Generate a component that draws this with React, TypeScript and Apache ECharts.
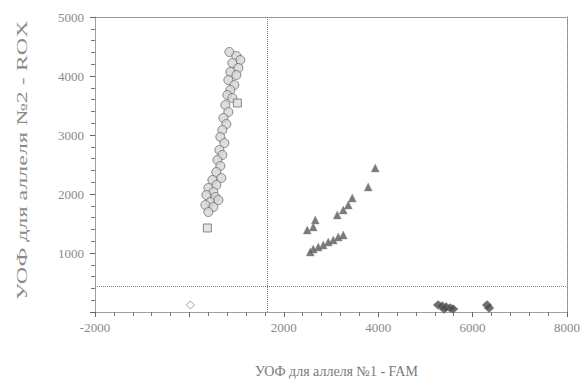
import React, { useEffect, useRef } from "react";
import * as echarts from "echarts";

// Allele 2 homozygotes (ROX) – hollow gray markers
const allele2Circles: [number, number][] = [
  [847, 4407], [995, 4339], [1079, 4271], [910, 4220], [1037, 4136], [868, 4068],
  [995, 4017], [825, 3932], [952, 3847], [868, 3763], [804, 3678], [910, 3627],
  [762, 3508], [825, 3390], [720, 3288], [783, 3186], [698, 3085], [656, 2966],
  [741, 2864], [635, 2746], [698, 2661], [593, 2576], [656, 2475], [571, 2373],
  [677, 2271], [487, 2237], [571, 2153], [402, 2102], [508, 2034], [360, 1983],
  [550, 1949], [444, 1864], [339, 1814], [508, 1780], [402, 1695], [614, 1898],
];
const allele2Squares: [number, number][] = [
  [1016, 3542], [381, 1424],
];
// Heterozygotes – dark triangles
const heterozygotes: [number, number][] = [
  [3937, 2441], [3788, 2119], [3450, 1932], [3365, 1814], [3259, 1729], [3132, 1644],
  [2667, 1559], [2624, 1441], [2497, 1390], [3259, 1305], [3153, 1271], [3048, 1220],
  [2942, 1186], [2836, 1136], [2730, 1102], [2624, 1068], [2561, 1017],
];
// Allele 1 homozygotes (FAM) – dark diamonds
const allele1: [number, number][] = [
  [5270, 119], [5354, 102], [5439, 85], [5524, 68], [5587, 51], [5397, 51],
  [6307, 119], [6349, 68],
];
// No-template control
const ntc: [number, number][] = [[21, 119]];

const thresholdX = 1650;
const thresholdY = 440;

const xTitle = "УОФ для аллеля №1 - FAM";
const yTitle = "УОФ для аллеля №2 - ROX";

const FONT = "'Liberation Serif', 'DejaVu Serif', serif";
const GRAY = "#808080";

export default function App() {
  const ref = useRef<HTMLDivElement>(null);
  useEffect(() => {
    if (!ref.current) return;
    const chart = echarts.init(ref.current, undefined, { renderer: "svg" });
    const label = (margin: number) => ({
      color: "#8a8a8a",
      fontFamily: FONT,
      fontSize: 13,
      margin,
      formatter: (v: number) => (v === 0 ? "" : String(v)),
    });
    const tick = { show: true, length: 5, lineStyle: { color: "#666", width: 1 } };
    const minor = { show: true, splitNumber: 5, length: 4, lineStyle: { color: "#777", width: 1 } };
    const line = { show: true, onZero: false, lineStyle: { color: "#a0a0a0", width: 1 } };
    const frameAxis = {
      axisLine: { show: true, onZero: false, lineStyle: { color: GRAY, type: "dotted", width: 1 } },
      axisTick: { show: false }, axisLabel: { show: false }, splitLine: { show: false },
    };
    chart.setOption({
      animation: false,
      backgroundColor: "#ffffff",
      grid: { left: 95, right: 17, top: 17, bottom: 76 },
      xAxis: [
        {
          type: "value", min: -2000, max: 8000, interval: 2000,
          axisLine: line, axisTick: tick, minorTick: minor,
          splitLine: { show: false }, axisLabel: label(9),
        },
        { type: "value", position: "top", min: -2000, max: 8000, interval: 2000, ...frameAxis },
      ],
      yAxis: [
        {
          type: "value", min: 0, max: 5000, interval: 1000,
          axisLine: line, axisTick: tick, minorTick: minor,
          splitLine: { show: false }, axisLabel: label(11),
        },
        { type: "value", position: "right", min: 0, max: 5000, interval: 1000, ...frameAxis },
      ],
      graphic: [
        {
          type: "text", left: 255, top: 364,
          style: { text: xTitle, fontFamily: FONT, fontSize: 14, fill: "#7a7a7a" },
        },
        {
          type: "text", x: 14, y: 300, rotation: Math.PI / 2, scaleX: 1.6,
          style: { text: yTitle, fontFamily: FONT, fontSize: 15, fill: "#8a8a8a", textVerticalAlign: "top" },
        },
      ],
      series: [
        {
          type: "scatter", data: allele2Circles, symbol: "circle", symbolSize: 9,
          itemStyle: { color: "#d6d6d6", borderColor: "#6e6e6e", borderWidth: 1 },
          markLine: {
            silent: true, symbol: "none", label: { show: false },
            lineStyle: { color: GRAY, type: "dotted", width: 1 },
            data: [{ xAxis: thresholdX }, { yAxis: thresholdY }],
          },
        },
        {
          type: "scatter", data: allele2Squares, symbol: "rect", symbolSize: 8,
          itemStyle: { color: "#dcdcdc", borderColor: "#6e6e6e", borderWidth: 1 },
        },
        {
          type: "scatter", data: heterozygotes, symbol: "triangle", symbolSize: 8,
          itemStyle: { color: "#5a5a5a", borderColor: "#8a8a8a", borderWidth: 0.5 },
        },
        {
          type: "scatter", data: allele1, symbol: "diamond", symbolSize: [10, 9],
          itemStyle: { color: "#4a4a4a", borderColor: "#888", borderWidth: 0.5 },
        },
        {
          type: "scatter", data: ntc, symbol: "diamond", symbolSize: 8,
          itemStyle: { color: "#ffffff", borderColor: "#8a8a8a", borderWidth: 1 },
        },
      ],
    });
    return () => chart.dispose();
  }, []);
  return (
    <div
      ref={ref}
      style={{ position: "fixed", left: 0, top: 0, width: 584, height: 388, background: "#fff" }}
    />
  );
}
